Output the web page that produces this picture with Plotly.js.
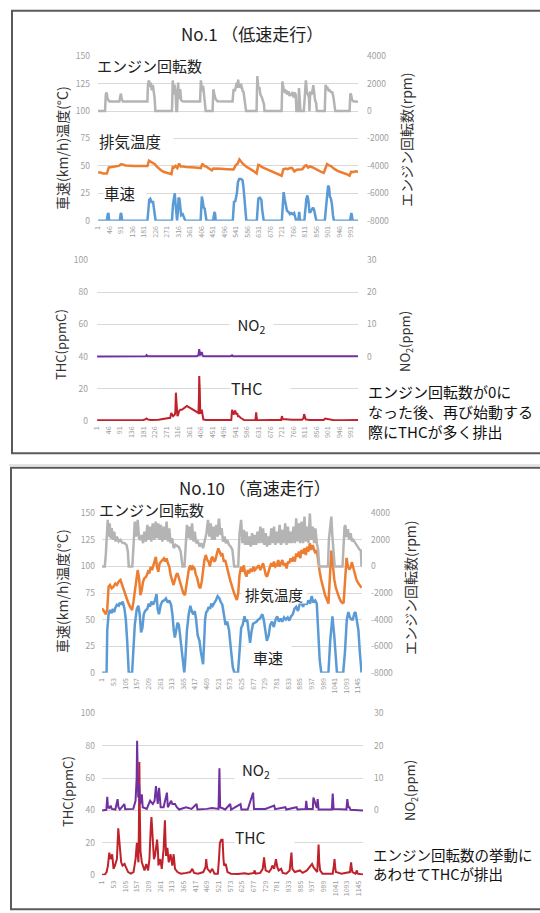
<!DOCTYPE html>
<html><head><meta charset="utf-8">
<script src="https://cdn.plot.ly/plotly-3.0.1.min.js"></script>
<style>html,body{margin:0;padding:0;background:#fff;}#chart{width:540px;height:913px;}</style>
</head><body><div id="chart"></div>
<script>
// ---------- DATA: No.1 (低速走行) ----------
const ticksNo1 = [1,46,91,136,181,226,271,316,361,406,451,496,541,586,631,676,721,766,811,856,901,946,991];
const speedNo1 = [[1,0],[35,0],[38,5],[40,7],[42,6],[44,0],[86,0],[89,6],[91,7],[93,4],[95,0],[194,0],[197,12],[201,19],[205,20],[210,17],[216,17],[220,12],[223,5],[226,0],[290,0],[294,15],[298,24],[301,25],[304,15],[308,2],[310,0],[313,8],[316,21],[319,20],[322,10],[326,5],[332,6],[337,3],[342,0],[402,0],[405,15],[407,22],[410,18],[414,12],[418,11],[421,5],[425,0],[451,0],[454,6],[456,8],[459,6],[461,0],[528,0],[531,10],[533,18],[537,17],[540,20],[544,25],[548,35],[553,38],[560,38],[566,37],[570,30],[574,15],[577,5],[581,0],[622,0],[625,12],[628,20],[634,21],[640,19],[643,10],[646,2],[649,0],[720,0],[723,15],[727,26],[731,20],[735,14],[740,9],[746,8],[752,6],[757,7],[763,6],[768,7],[772,3],[776,0],[784,0],[786,6],[788,8],[790,3],[792,0],[808,0],[812,14],[816,20],[820,23],[824,18],[828,8],[832,8],[837,10],[842,12],[846,10],[850,5],[855,0],[888,0],[893,15],[897,25],[901,32],[905,30],[908,22],[912,20],[916,15],[920,5],[924,0],[987,0],[990,5],[992,7],[994,5],[997,0],[1018,0]];
const exhaustNo1 = [[1,44],[10,44],[21,43],[35,43],[43,48.6],[55,49],[70,49.5],[82,50],[91,51.6],[100,51],[109,50.4],[142,49.8],[170,49.5],[194,49.8],[200,54.7],[205,54],[210,53.4],[216,52.5],[223,51.6],[230,49.5],[237,47.7],[247,46],[257,44.6],[270,43.5],[288,42.5],[293,49],[298,48.5],[304,50],[311,48],[318,52.2],[324,49.5],[335,49.5],[345,49],[380,48.5],[403,48],[409,52],[416,50],[423,49.5],[435,47.5],[446,46],[452,47.7],[465,47.2],[479,47.3],[505,47],[531,46.8],[540,50.7],[547,52],[554,55.9],[560,54],[567,52],[580,49.5],[594,47.7],[608,45.5],[621,43.1],[628,51],[634,50.5],[641,49],[660,47],[682,44.6],[700,42.5],[719,41],[726,47],[735,47.5],[742,47],[752,48],[760,48],[769,45],[778,46.5],[789,46.5],[800,47],[810,50],[816,50.5],[823,48.5],[830,49.5],[837,49],[850,47.5],[857,46],[870,45],[884,43.7],[890,48],[897,51.6],[904,50.5],[911,50],[924,47.5],[938,45.5],[955,44],[970,43],[978,42],[985,41],[991,44.6],[1000,44.5],[1010,45],[1018,44.6]];
const rpmNo1 = [[1,0],[28,0],[31,1200],[34,1360],[38,900],[45,700],[84,700],[87,1100],[90,1280],[93,900],[98,700],[194,700],[196,2000],[200,2240],[204,1760],[207,2080],[211,1520],[215,1920],[219,1440],[222,960],[225,0],[290,0],[293,2240],[297,1200],[300,1920],[304,1440],[307,0],[310,0],[312,960],[314,2080],[318,880],[322,1600],[326,800],[331,720],[345,700],[400,700],[403,2240],[406,1600],[409,1440],[412,1840],[415,1280],[419,960],[422,0],[449,0],[452,1600],[455,1300],[460,900],[468,720],[527,700],[531,1600],[536,1450],[540,1800],[544,2080],[547,1700],[549,2300],[552,1800],[556,1760],[560,2000],[563,1700],[567,1440],[570,1400],[574,900],[578,400],[580,0],[621,0],[624,2560],[628,1600],[632,1760],[636,1200],[641,1040],[645,800],[650,500],[652,0],[719,0],[722,2160],[726,1400],[729,1360],[732,1600],[736,1280],[739,1500],[742,1200],[746,1440],[750,1100],[754,1300],[758,1120],[762,1400],[766,1000],[770,1360],[774,1200],[777,0],[784,0],[787,1680],[790,900],[793,0],[806,0],[810,1500],[814,2240],[818,1400],[822,1200],[826,1000],[828,0],[831,1440],[835,1200],[839,1360],[843,1900],[846,1280],[850,800],[854,600],[857,0],[888,0],[891,1920],[895,1600],[899,1680],[903,1500],[907,1520],[912,1400],[918,1360],[922,1000],[926,600],[929,0],[985,0],[988,1280],[991,1200],[995,800],[1000,720],[1018,680]];
const thcNo1 = [[1,0.4],[60,0.5],[120,0.6],[180,0.5],[190,1.2],[194,1.6],[198,1],[210,0.6],[240,0.8],[250,1],[263,1.5],[280,1.7],[286,2],[290,5],[293,3.5],[297,3],[304,4],[306,6],[308,17.6],[311,12],[314,3],[317,4],[320,6],[325,7],[331,7],[340,8],[351,9.3],[360,8.5],[370,7.5],[385,6],[390,5.5],[396,5],[398,15],[399,28],[401,20],[403,5],[406,5],[409,7],[412,3],[415,1],[425,0.6],[446,0.5],[500,0.6],[524,0.6],[526,4],[527,7],[530,5],[534,4],[537,6],[540,6],[544,4],[547,5],[550,3],[554,3],[560,2],[567,1],[574,0.6],[618,0.5],[620,3],[621,5.4],[623,2],[625,0.5],[680,0.6],[718,0.6],[720,2],[722,3],[724,1.2],[735,1],[742,1],[760,0.7],[800,0.8],[805,1.5],[808,4.3],[811,2],[814,1],[830,0.6],[870,0.8],[884,0.6],[890,1.5],[900,1.2],[911,1.2],[924,0.5],[960,0.5],[1018,0.6]];
const no2No1 = [[1,0],[100,0.1],[190,0.1],[194,0.5],[198,0.1],[300,0.1],[390,0.1],[396,0.5],[399,2.3],[401,1.2],[403,0.6],[406,0.8],[409,1.4],[412,0.4],[415,0.1],[520,0.1],[527,0.4],[531,0.1],[700,0.1],[738,0.3],[742,0.1],[900,0.1],[908,0.3],[912,0.1],[1018,0.1]];

// ---------- DATA: No.10 (高速走行) ----------
const ticksNo10 = [1,53,105,157,209,261,313,365,417,469,521,573,625,677,729,781,833,885,937,989,1041,1093,1145];
const speedNo10 = [[1,0],[21,0],[24,40],[30,55],[36,59],[44,56],[49,60],[55,57],[60,61],[67,64],[75,63],[80,66],[86,64],[93,67],[101,60],[107,50],[113,30],[118,5],[120,0],[135,0],[141,20],[147,45],[156,60],[163,63],[169,55],[175,38],[181,42],[187,55],[193,58],[203,60],[209,65],[215,62],[221,67],[229,64],[237,68],[244,74],[249,60],[255,55],[263,64],[270,67],[278,68],[286,70],[294,66],[301,68],[309,64],[315,55],[321,40],[326,33],[332,40],[338,47],[344,45],[351,30],[360,10],[365,0],[368,0],[372,10],[380,40],[388,55],[395,63],[403,57],[409,55],[415,58],[421,50],[428,35],[436,30],[442,20],[448,12],[452,8],[456,25],[461,50],[466,57],[471,58],[477,62],[483,60],[489,65],[495,63],[503,66],[509,68],[517,72],[525,70],[532,66],[538,64],[545,55],[552,45],[560,48],[568,40],[575,25],[585,5],[592,0],[608,0],[615,20],[622,42],[629,45],[637,53],[643,48],[649,50],[655,40],[662,28],[668,38],[675,46],[683,47],[691,48],[698,50],[706,51],[717,55],[723,50],[730,40],[737,30],[745,35],[752,45],[760,48],[768,43],[776,50],[783,53],[791,48],[799,51],[806,48],[814,52],[822,50],[830,52],[837,49],[845,53],[853,55],[860,60],[868,62],[876,58],[883,64],[891,66],[899,62],[906,67],[914,64],[922,68],[930,65],[937,72],[945,66],[953,68],[960,65],[966,40],[973,12],[980,0],[1012,0],[1020,30],[1030,53],[1038,35],[1045,8],[1050,0],[1078,0],[1086,20],[1094,50],[1101,57],[1108,52],[1115,50],[1121,50],[1128,56],[1133,57],[1139,48],[1146,40],[1152,20],[1157,5],[1160,0]];
const exhaustNo10 = [[1,60.6],[10,57.4],[18,55],[24,60],[30,81],[36,82.5],[44,79.4],[52,81],[60,84],[67,82.5],[75,85.7],[83,87.2],[90,82.5],[95,79],[101,74.7],[110,70],[116,66.8],[126,62],[135,59],[141,66.8],[147,77.8],[155,92],[160,96.6],[166,89],[172,73],[178,77.8],[184,85.7],[190,88.8],[198,90.4],[206,95],[212,93.5],[218,99.8],[224,96.6],[230,101],[237,106],[241,109],[246,99.8],[252,95],[258,103],[264,104.5],[270,106],[277,107.6],[283,104.5],[289,107.6],[295,103],[301,99.8],[307,92],[314,85.7],[320,82.5],[326,87.2],[332,92],[338,93.5],[344,89],[351,82.5],[357,79.4],[364,74.7],[371,73],[377,82.5],[383,92],[389,98],[395,101],[401,96.6],[407,99.8],[414,98],[420,92],[426,89],[434,81],[440,79.4],[446,85.7],[452,96.6],[458,106],[464,110.8],[471,106],[477,104.5],[483,99.8],[489,107.6],[495,109],[501,104.5],[507,106],[514,112.3],[520,117],[526,113.9],[532,110.8],[538,112.3],[545,104.5],[551,106],[557,99.8],[563,95],[569,90.4],[575,85.7],[583,79],[591,74.7],[597,71.5],[603,68.4],[609,74.7],[615,92],[622,99.8],[628,95],[634,101],[640,93.5],[646,90.4],[652,96.6],[658,93.5],[665,98],[671,95],[677,99.8],[683,96.6],[689,98],[695,100.2],[701,101],[708,96.6],[714,100.2],[720,103],[726,98],[732,92],[738,90.4],[745,96.6],[751,99.8],[757,103],[763,99.8],[769,104.5],[775,99.8],[782,101],[788,106],[794,99.8],[800,103],[806,106],[812,101],[819,103],[825,98],[831,104.5],[837,103],[843,107.6],[849,104.5],[856,109],[862,104.5],[868,112.3],[874,109],[880,114],[886,107.6],[892,115.5],[899,112.3],[905,117],[911,110.8],[917,118.6],[923,114],[929,121.7],[935,115.5],[942,120],[948,115.5],[954,112.3],[960,115.5],[966,103],[973,95],[979,88],[985,82],[991,77],[997,73],[1003,70],[1008,66],[1012,65],[1016,80],[1020,100],[1025,115],[1029,108],[1033,98],[1038,88],[1045,80],[1053,74],[1061,70],[1068,67],[1075,65.5],[1080,66],[1086,85],[1093,108],[1099,100],[1105,97],[1111,99],[1117,104],[1124,98],[1131,92],[1138,87],[1146,84],[1153,82],[1160,80]];
const rpmNo10 = [[1,0],[13,0],[18,1000],[21,2000],[26,3500],[30,2250],[35,3250],[39,2100],[44,2875],[49,2000],[55,2625],[61,1875],[67,2250],[75,1875],[83,2000],[90,1800],[101,1750],[110,1625],[116,1125],[120,0],[136,0],[141,1500],[147,3375],[153,2250],[160,3500],[166,2125],[172,2000],[178,2375],[184,1750],[190,2625],[197,1875],[203,3125],[209,2000],[215,3000],[221,1875],[227,3250],[234,2000],[240,3375],[246,2125],[252,3250],[258,2000],[264,3125],[270,1875],[277,3000],[283,2000],[289,3375],[295,1875],[301,2875],[307,1750],[314,2125],[321,1375],[329,1625],[337,1550],[344,1450],[352,1125],[360,0],[369,0],[375,2000],[380,3125],[386,2125],[391,3000],[397,2000],[403,3250],[409,1875],[415,2625],[421,1750],[429,1875],[437,1500],[444,1750],[452,1375],[459,1875],[467,2500],[474,3500],[480,2250],[486,3250],[492,2000],[498,3000],[504,2000],[511,3125],[517,2250],[523,3750],[529,2375],[535,2875],[541,1875],[548,2250],[554,1750],[560,2000],[568,1625],[575,1500],[583,1250],[591,0],[609,0],[615,2500],[622,3500],[628,1750],[634,2750],[640,1625],[646,2625],[652,1625],[658,2250],[665,1500],[671,2500],[677,1625],[683,2375],[689,1625],[695,2625],[701,1750],[708,3000],[714,1750],[720,2875],[726,1625],[732,2500],[738,1500],[745,2250],[751,1625],[757,2875],[763,1750],[769,3000],[775,1625],[782,2625],[788,1750],[794,3125],[800,1625],[806,2750],[812,1750],[819,3250],[825,1625],[831,3000],[837,1750],[843,2625],[849,1750],[856,3000],[862,1750],[868,3625],[874,1875],[880,3250],[886,1750],[892,3375],[899,1750],[905,3750],[911,1875],[917,3000],[923,1750],[929,4000],[935,2000],[942,3000],[948,1750],[954,2875],[960,1750],[966,1250],[971,0],[1010,0],[1014,2000],[1020,3000],[1025,3750],[1030,2200],[1036,1200],[1040,0],[1075,0],[1079,1800],[1084,3000],[1088,3100],[1093,2200],[1099,2800],[1105,2000],[1111,2500],[1117,1900],[1123,2000],[1130,1800],[1137,1700],[1145,1400],[1152,1250],[1157,1200],[1160,0]];
const thcNo10 = [[1,0.3],[13,0.5],[21,2],[27,6],[33,14],[39,10],[46,13],[52,4],[58,6],[67,10],[73,29],[80,14],[86,8],[92,6],[101,7],[107,5],[117,2],[129,1],[141,2],[150,10],[156,20],[160,12],[163,8],[165,30],[167,70],[169,40],[172,15],[178,8],[184,5],[190,3],[198,7],[206,3],[212,10],[215,24],[218,30],[221,36],[224,30],[227,26],[232,10],[237,12],[240,17],[246,22],[250,15],[252,6],[260,10],[267,4],[275,16],[278,25],[281,34],[284,20],[286,12],[292,17],[298,8],[306,13],[310,9],[314,6],[320,13],[326,4],[337,2],[352,1],[367,1.2],[383,1.5],[394,2],[403,4],[411,1.5],[429,1],[452,2],[462,5],[465,10],[468,6],[471,4],[483,2],[492,4],[502,1],[517,1],[522,10],[526,20],[532,22],[538,22],[542,10],[545,6],[552,7],[556,3],[560,2],[575,1],[606,0.8],[637,1.2],[652,0.8],[678,1.5],[680,3],[686,1],[706,1.5],[717,4],[723,11],[727,6],[730,3],[745,2],[755,4],[760,6],[765,5],[768,4],[776,10],[782,5],[788,3],[799,4],[806,1.5],[822,1],[837,3],[843,10],[845,14],[849,4],[860,2],[883,3],[895,1.5],[914,3],[926,5],[937,7],[943,5],[948,4],[960,2],[963,10],[966,19],[969,8],[973,3],[983,1],[1029,1],[1034,6],[1037,10],[1040,5],[1043,2],[1068,1],[1106,2],[1109,6],[1111,8],[1114,4],[1117,2],[1130,1],[1135,3],[1137,3],[1140,1],[1164,0.5]];
const no2No10 = [[1,0],[20,0.2],[24,4.2],[27,1],[33,0.8],[39,1.5],[44,0.5],[60,0.3],[70,3.5],[74,1],[80,0.3],[100,2],[104,0.4],[140,0.5],[150,3],[155,10],[157,21.5],[159,12],[162,4],[166,8],[170,2],[175,3],[178,5],[182,1],[200,0.5],[206,1.5],[215,3],[227,2],[235,3],[241,7.5],[245,4],[249,2],[255,7],[258,3],[262,1],[275,1],[290,5.5],[294,1],[309,3],[314,2],[326,2],[334,1],[344,0.3],[375,1],[400,0.5],[422,2],[426,0.3],[468,0.5],[491,0.8],[520,0.5],[524,13],[527,1],[550,0.3],[572,2],[576,0.3],[618,2],[622,0.3],[650,0.3],[674,5.5],[678,0.5],[729,0.5],[768,1.5],[772,0.4],[818,1],[822,0.3],[868,1],[872,0.3],[908,0.5],[911,3],[915,0.5],[940,0.5],[943,4],[948,3],[958,0.8],[962,3.5],[966,0.3],[1025,0.3],[1029,5.2],[1033,0.5],[1090,0.3],[1094,3.5],[1099,1],[1104,1],[1108,0.2],[1164,0]];

// axis tick values / labels
const tempTicks = [0,25,50,75,100,125,150];
const rpmTicks = [-8000,-6000,-4000,-2000,0,2000,4000];
const thcTicks = [0,20,40,60,80,100];
const no2Ticks = [0,10,20,30];

// comment lines
const noteNo1 = ['エンジン回転数が0に', 'なった後、再び始動する', '際にTHCが多く排出'];
const noteNo10 = ['エンジン回転数の挙動に', 'あわせてTHCが排出'];

// ---------- LAYOUT HELPERS ----------
const W = 540, H = 913;
const fx = p => p / W;
const fy = p => 1 - p / H;
const FONT = '"Noto Sans CJK JP", "Noto Sans", sans-serif';
const COL = {gray:'#b4b4b4', orange:'#ed7d31', blue:'#5b9bd5', red:'#c0222c', purple:'#7030a0'};
const X = (a) => a.map(p => p[0]);
const Y = (a) => a.map(p => p[1]);

function line(arr, xa, ya, color, w) {
  return {type:'scatter', mode:'lines', x:X(arr), y:Y(arr), xaxis:xa, yaxis:ya,
          line:{color:color, width:w}, hoverinfo:'skip'};
}

const data = [
  line(speedNo1, 'x', 'y', COL.blue, 2.5),
  line(exhaustNo1, 'x', 'y', COL.orange, 2.5),
  line(rpmNo1, 'x', 'y2', COL.gray, 2.5),
  line(thcNo1, 'x2', 'y3', COL.red, 2),
  line(no2No1, 'x2', 'y4', COL.purple, 2),
  line(speedNo10, 'x3', 'y5', COL.blue, 2.5),
  line(exhaustNo10, 'x3', 'y5', COL.orange, 2.5),
  line(rpmNo10, 'x3', 'y6', COL.gray, 2.5),
  line(thcNo10, 'x4', 'y7', COL.red, 2),
  line(no2No10, 'x4', 'y8', COL.purple, 2)
];

const tickFont = {family:FONT, size:8.5, color:'#a0a0a0'};
const xTickFont = {family:FONT, size:7, color:'#9a9a9a'};

function xAxis(domPx, anchor, ticks, maxX) {
  return {domain:[fx(domPx[0]), fx(domPx[1])], anchor:anchor, range:[0.5, maxX],
    tickmode:'array', tickvals:ticks, ticktext:ticks.map(String), tickangle:-90,
    tickfont:xTickFont, showgrid:false, zeroline:false, showline:false, ticks:'',
    ticklabelstandoff:3, fixedrange:true};
}
function yLeft(domPx, anchor, range, ticks, standoff) {
  return {domain:[fy(domPx[1]), fy(domPx[0])], anchor:anchor, range:range,
    tickmode:'array', tickvals:ticks, ticktext:ticks.map(String), tickfont:tickFont,
    showgrid:true, gridcolor:'#d9d9d9', gridwidth:1, zeroline:false, showline:false,
    ticks:'', ticklabelstandoff:standoff, fixedrange:true};
}
function yRight(over, anchor, range, ticks, standoff) {
  return {overlaying:over, side:'right', anchor:anchor, range:range,
    tickmode:'array', tickvals:ticks, ticktext:ticks.map(String), tickfont:tickFont,
    showgrid:false, zeroline:false, showline:false, ticks:'', ticklabelstandoff:standoff,
    fixedrange:true};
}

const A = {x:[98,358], y:[56.3,220.7]};
const B = {x:[97,358], y:[260,421]};
const C = {x:[102,362], y:[513.3,672.7]};
const D = {x:[102,363], y:[713.3,875.3]};

function ann(text, xp, yp, opts) {
  return Object.assign({xref:'paper', yref:'paper', x:fx(xp), y:fy(yp), text:text,
    showarrow:false, xanchor:'center', yanchor:'middle',
    font:{family:FONT, size:15, color:'#222'}}, opts || {});
}
function boxLabel(text, x0, x1, yc, h, size, align) {
  return ann(text, x0, yc, {xanchor:'left', width:x1 - x0, height:h, align:align || 'left',
    bgcolor:'#ffffff', borderpad:0, font:{family:FONT, size:size, color:'#222'}});
}
const titleFont = {family:FONT, size:14, color:'#333'};
const titleFont2 = {family:FONT, size:13, color:'#333'};

const annotations = [
  ann('No.1 （低速走行）', 252, 33, {font:{family:FONT, size:17, color:'#222'}}),
  ann('No.10 （高速走行）', 255, 487, {font:{family:FONT, size:17, color:'#222'}}),
  // axis titles
  ann('車速(km/h)温度(°C)', 62, 148, {textangle:-90, font:titleFont}),
  ann('エンジン回転数(rpm)', 406, 140, {textangle:-90, font:titleFont}),
  ann('THC(ppmC)', 60, 345, {textangle:-90, font:titleFont2}),
  ann('NO<sub>2</sub>(ppm)', 405, 342, {textangle:-90, font:titleFont2}),
  ann('車速(km/h)温度(°C)', 62, 591, {textangle:-90, font:titleFont}),
  ann('エンジン回転数(rpm)', 410, 588, {textangle:-90, font:titleFont}),
  ann('THC(ppmC)', 67, 792, {textangle:-90, font:titleFont2}),
  ann('NO<sub>2</sub>(ppm)', 410, 791, {textangle:-90, font:titleFont2}),
  // series labels (white boxes hide the gridlines behind them)
  boxLabel('エンジン回転数', 96, 215, 65, 18, 15),
  boxLabel('排気温度', 98, 172, 141, 18, 15.5),
  boxLabel('車速', 103, 145, 193, 18, 15.5),
  boxLabel('NO<sub>2</sub>', 229, 272, 326, 19, 15, 'center'),
  boxLabel('THC', 230, 289, 388, 18, 16),
  boxLabel('エンジン回転数', 98, 219, 509, 18, 15),
  boxLabel('排気温度', 241, 305, 594, 18, 14.5, 'center'),
  boxLabel('車速', 244, 290, 657, 24, 15, 'center'),
  boxLabel('NO<sub>2</sub>', 234, 276, 770.5, 21, 15, 'center'),
  boxLabel('THC', 234, 293, 837, 20, 15.5)
];
// comments, one annotation per line
noteNo1.forEach((t, k) => annotations.push(
  ann(t, 366, 391 + k * 20, {xanchor:'left', align:'left', font:{family:FONT, size:15, color:'#111'}})));
noteNo10.forEach((t, k) => annotations.push(
  ann(t, 371, 854 + k * 19, {xanchor:'left', align:'left', font:{family:FONT, size:14.5, color:'#111'}})));

const shapes = [
  {type:'rect', xref:'paper', yref:'paper', x0:fx(12), x1:fx(560), y0:fy(453.3), y1:fy(10.7),
   line:{color:'#5a5a5a', width:2}},
  {type:'rect', xref:'paper', yref:'paper', x0:fx(11), x1:fx(560), y0:fy(909.3), y1:fy(467.7),
   line:{color:'#5a5a5a', width:2}},
  {type:'line', xref:'paper', yref:'paper', x0:fx(9), x1:fx(560), y0:fy(465), y1:fy(465),
   line:{color:'#c8c8c8', width:1}}
];

const layout = {
  width:W, height:H, margin:{l:0, r:0, t:0, b:0},
  paper_bgcolor:'#ffffff', plot_bgcolor:'rgba(0,0,0,0)',
  showlegend:false, hovermode:false, dragmode:false,
  font:{family:FONT},
  xaxis: xAxis(A.x, 'y', ticksNo1, 1018),
  yaxis: yLeft(A.y, 'x', [0,150], tempTicks, 7),
  yaxis2: yRight('y', 'x', [-8000,4000], rpmTicks, 8),
  xaxis2: xAxis(B.x, 'y3', ticksNo1, 1018),
  yaxis3: yLeft(B.y, 'x2', [0,100], thcTicks, 8),
  yaxis4: yRight('y3', 'x2', [-20,30], no2Ticks, 8),
  xaxis3: xAxis(C.x, 'y5', ticksNo10, 1162),
  yaxis5: yLeft(C.y, 'x3', [0,150], tempTicks, 6),
  yaxis6: yRight('y5', 'x3', [-8000,4000], rpmTicks, 8),
  xaxis4: xAxis(D.x, 'y7', ticksNo10, 1164),
  yaxis7: yLeft(D.y, 'x4', [0,100], thcTicks, 6),
  yaxis8: yRight('y7', 'x4', [-20,30], no2Ticks, 10),
  annotations: annotations,
  shapes: shapes
};

Plotly.newPlot('chart', data, layout, {staticPlot:true, displayModeBar:false});
</script></body></html>
